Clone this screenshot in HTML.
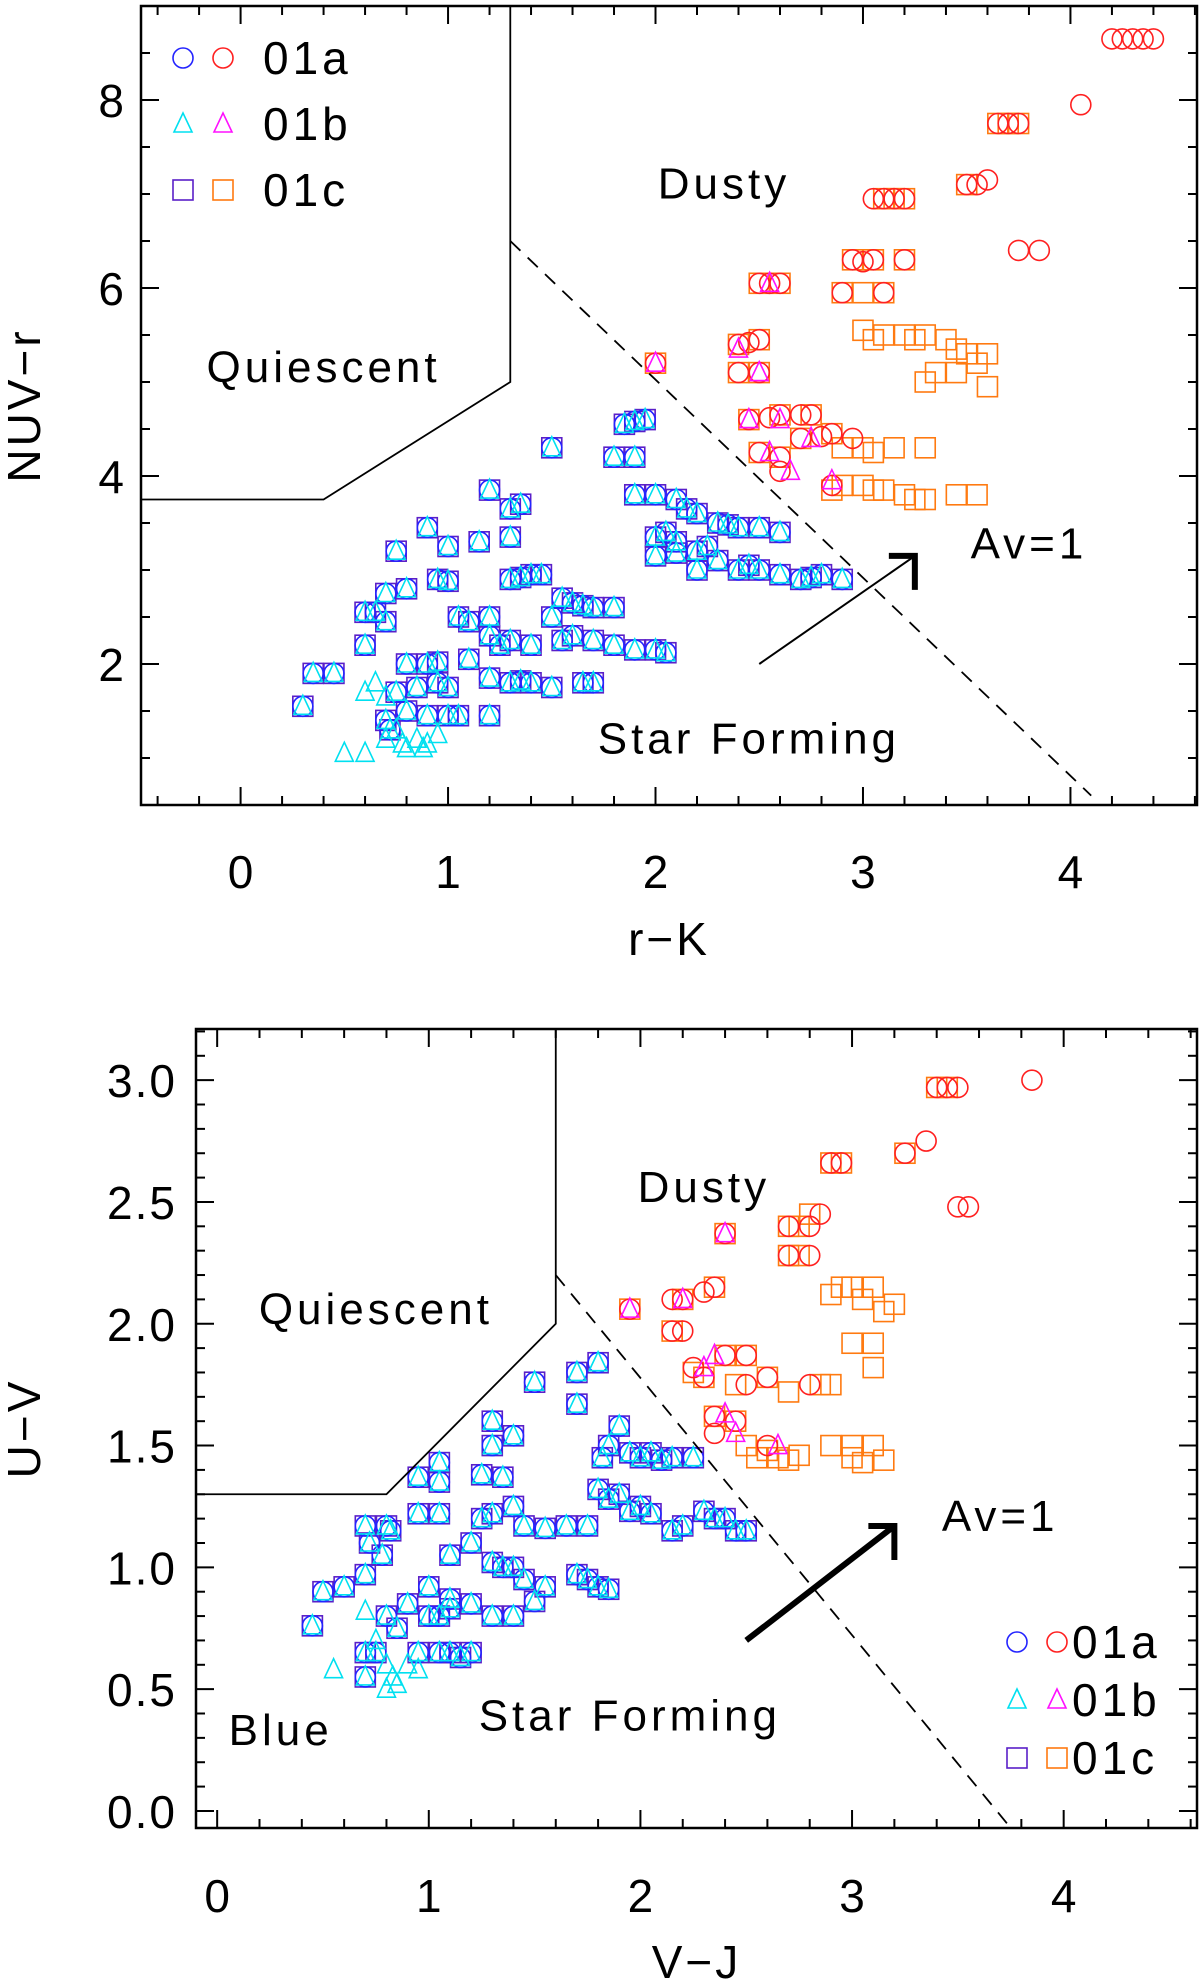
<!DOCTYPE html>
<html><head><meta charset="utf-8"><style>
html,body{margin:0;padding:0;background:#fff;}
svg{display:block;font-family:"Liberation Sans","DejaVu Sans",sans-serif;}
</style></head><body>
<svg id="fig" width="1200" height="1983" viewBox="0 0 1200 1983"></svg>
<script>
// ---------- TOP PANEL DATA (r-K, NUV-r) ----------
const topBlueCombo=[[0.3,1.55],[0.35,1.9],[0.45,1.9],[0.6,2.55],[0.65,2.55],[0.6,2.2],[0.7,2.75],[0.8,2.8],[0.7,2.45],[0.75,3.2],[0.9,3.45],[1.0,3.25],[1.15,3.3],[1.2,3.85],[1.3,3.65],[1.35,3.7],[1.3,3.35],[1.5,4.3],[1.85,4.55],[1.95,4.6],[1.9,4.58],[1.8,4.2],[1.9,4.2],[0.95,2.9],[1.0,2.88],[1.05,2.5],[1.1,2.45],[1.2,2.5],[1.3,2.9],[1.35,2.92],[1.4,2.95],[1.45,2.95],[1.5,2.5],[1.55,2.7],[1.6,2.65],[1.65,2.62],[1.7,2.6],[1.8,2.6],[1.55,2.25],[1.6,2.3],[1.7,2.25],[1.8,2.2],[1.9,2.15],[2.0,2.15],[2.05,2.12],[1.1,2.05],[1.2,2.3],[1.3,2.25],[1.4,2.2],[1.25,2.2],[1.2,1.85],[1.3,1.8],[1.35,1.82],[1.4,1.8],[1.5,1.75],[1.65,1.8],[1.7,1.8],[0.7,1.4],[0.72,1.3],[0.8,1.5],[0.9,1.45],[1.0,1.45],[1.05,1.45],[1.2,1.45],[0.8,2.0],[0.9,2.0],[0.95,2.02],[0.95,1.8],[0.75,1.7],[0.85,1.75],[1.0,1.75],[1.9,3.8],[2.0,3.8],[2.1,3.75],[2.15,3.65],[2.2,3.6],[2.3,3.5],[2.35,3.48],[2.4,3.45],[2.5,3.45],[2.6,3.4],[2.0,3.35],[2.05,3.4],[2.1,3.3],[2.2,3.2],[2.25,3.25],[2.3,3.1],[2.4,3.0],[2.45,3.05],[2.5,3.0],[2.6,2.95],[2.7,2.9],[2.75,2.92],[2.8,2.95],[2.9,2.9],[2.0,3.15],[2.1,3.18],[2.2,3.0]];
const topCyanOnly=[[0.5,1.05],[0.6,1.05],[0.7,1.2],[0.75,1.3],[0.8,1.1],[0.85,1.2],[0.9,1.15],[0.95,1.25],[0.6,1.7],[0.65,1.8],[0.7,1.65],[0.78,1.15],[0.88,1.1]];
const topRedCircles=[[4.2,8.65],[4.25,8.65],[4.3,8.65],[4.35,8.65],[4.4,8.65],[4.05,7.95],[3.65,7.75],[3.7,7.75],[3.75,7.75],[3.5,7.1],[3.55,7.1],[3.6,7.15],[3.75,6.4],[3.85,6.4],[3.05,6.95],[3.1,6.95],[3.15,6.95],[3.2,6.95],[2.95,6.3],[3.0,6.28],[3.05,6.3],[3.2,6.3],[2.9,5.95],[3.1,5.95],[2.5,6.05],[2.55,6.05],[2.6,6.05],[2.0,5.2],[2.4,5.4],[2.45,5.42],[2.5,5.45],[2.4,5.1],[2.5,5.1],[2.45,4.6],[2.55,4.62],[2.6,4.65],[2.7,4.65],[2.75,4.65],[2.7,4.4],[2.8,4.42],[2.85,4.45],[2.95,4.4],[2.5,4.25],[2.6,4.2],[2.6,4.05],[2.85,3.9]];
const topOrangeSquares=[[3.65,7.75],[3.7,7.75],[3.75,7.75],[3.5,7.1],[3.1,6.95],[3.15,6.95],[3.2,6.95],[2.95,6.3],[3.05,6.3],[3.2,6.3],[2.9,5.95],[3.0,5.95],[3.1,5.95],[2.5,6.05],[2.6,6.05],[2.0,5.2],[2.4,5.4],[2.5,5.45],[2.4,5.1],[2.5,5.1],[2.45,4.6],[2.6,4.65],[2.75,4.65],[2.7,4.4],[2.85,4.45],[2.5,4.25],[2.6,4.2],[3.0,5.55],[3.05,5.45],[3.1,5.5],[3.2,5.5],[3.25,5.45],[3.3,5.5],[3.4,5.45],[3.45,5.35],[3.5,5.3],[3.6,5.3],[3.55,5.2],[3.3,5.0],[3.35,5.1],[3.45,5.1],[3.6,4.95],[2.9,4.3],[3.0,4.3],[3.05,4.25],[3.15,4.3],[3.3,4.3],[2.85,3.85],[2.9,3.9],[3.0,3.9],[3.05,3.85],[3.1,3.85],[3.2,3.8],[3.25,3.75],[3.3,3.75],[3.45,3.8],[3.55,3.8]];
const topMagentaTriangles=[[2.0,5.2],[2.4,5.35],[2.5,5.1],[2.45,4.6],[2.6,4.6],[2.55,4.25],[2.65,4.05],[2.75,4.4],[2.85,3.95],[2.55,6.05]];
const topXTicks=[0,1,2,3,4];
const topYTicks=[2,4,6,8];
// ---------- BOTTOM PANEL DATA (V-J, U-V) ----------
const botBlueCombo=[[0.45,0.76],[0.5,0.9],[0.6,0.92],[0.7,0.97],[0.7,1.17],[0.72,1.1],[0.8,1.17],[0.82,1.15],[0.78,1.05],[0.95,1.37],[1.05,1.43],[1.05,1.35],[0.95,1.22],[1.05,1.22],[1.25,1.38],[1.3,1.6],[1.35,1.37],[1.3,1.5],[1.4,1.54],[1.5,1.76],[1.7,1.8],[1.7,1.67],[1.8,1.84],[1.82,1.45],[1.85,1.5],[1.9,1.58],[1.95,1.47],[2.0,1.45],[2.05,1.47],[2.1,1.44],[2.15,1.45],[2.25,1.45],[1.8,1.32],[1.85,1.28],[1.9,1.3],[1.95,1.23],[2.0,1.25],[2.05,1.22],[2.15,1.15],[2.3,1.23],[2.35,1.2],[2.4,1.2],[2.45,1.15],[2.5,1.15],[2.2,1.17],[1.25,1.2],[1.3,1.22],[1.4,1.25],[1.45,1.17],[1.55,1.16],[1.65,1.17],[1.75,1.17],[1.1,1.05],[1.2,1.1],[1.0,0.92],[1.1,0.87],[1.2,0.85],[1.3,0.8],[1.3,1.02],[1.35,1.0],[1.4,1.0],[1.45,0.95],[1.55,0.92],[1.5,0.86],[1.4,0.8],[1.7,0.97],[1.75,0.95],[1.8,0.92],[1.85,0.91],[1.05,0.65],[1.1,0.65],[1.15,0.63],[1.2,0.65],[0.95,0.65],[0.7,0.55],[0.7,0.65],[0.75,0.65],[0.85,0.75],[0.9,0.85],[1.0,0.8],[1.05,0.8],[1.1,0.83],[0.8,0.8]];
const botCyanOnly=[[0.55,0.58],[0.8,0.5],[0.85,0.52],[0.8,0.6],[0.7,0.82],[0.75,0.7],[0.9,0.6],[0.95,0.58],[0.83,0.55]];
const botRedCircles=[[3.85,3.0],[3.35,2.75],[3.25,2.7],[3.4,2.97],[3.45,2.97],[3.5,2.97],[2.95,2.66],[2.9,2.66],[3.5,2.48],[3.55,2.48],[2.85,2.45],[2.8,2.4],[2.7,2.4],[2.7,2.28],[2.8,2.28],[2.4,2.37],[1.95,2.06],[2.35,2.15],[2.3,2.13],[2.15,2.1],[2.2,2.1],[2.15,1.97],[2.2,1.97],[2.4,1.87],[2.5,1.87],[2.25,1.82],[2.3,1.78],[2.5,1.75],[2.6,1.78],[2.8,1.75],[2.35,1.62],[2.45,1.6],[2.35,1.55],[2.6,1.5]];
const botOrangeSquares=[[3.4,2.97],[3.45,2.97],[2.95,2.66],[2.9,2.66],[3.25,2.7],[2.8,2.45],[2.7,2.4],[2.75,2.4],[2.7,2.28],[2.75,2.28],[2.4,2.37],[1.95,2.06],[2.35,2.15],[2.2,2.1],[2.15,1.97],[2.4,1.87],[2.5,1.87],[2.25,1.8],[2.3,1.78],[2.45,1.75],[2.6,1.78],[2.35,1.62],[2.45,1.6],[2.85,1.75],[3.0,2.15],[3.1,2.15],[3.05,2.1],[2.9,2.12],[2.95,2.15],[3.15,2.05],[3.2,2.08],[3.0,1.92],[3.1,1.92],[3.1,1.82],[2.7,1.72],[2.9,1.75],[2.5,1.5],[2.6,1.48],[2.75,1.46],[2.9,1.5],[3.0,1.5],[3.1,1.5],[3.05,1.43],[3.15,1.44],[2.7,1.44],[2.55,1.45],[2.65,1.45],[3.0,1.45]];
const botMagentaTriangles=[[1.95,2.06],[2.4,2.37],[2.35,1.87],[2.4,1.63],[2.45,1.55],[2.65,1.5],[2.2,2.1],[2.3,1.82]];
const botXTicks=[0,1,2,3,4];
const botYTicks=[0.0,0.5,1.0,1.5,2.0,2.5,3.0];

const NS="http://www.w3.org/2000/svg";
const svg=document.getElementById('fig');
function el(tag,attrs,parent){const e=document.createElementNS(NS,tag);for(const k in attrs)e.setAttribute(k,attrs[k]);(parent||svg).appendChild(e);return e;}
const C={blue:'#2424ff',cyan:'#00e0f0',purple:'#5a1fc8',red:'#ff2020',magenta:'#ff10ff',orange:'#ff7a10'};

function makeAxes(p){
  const sx=v=>p.L+(v-p.x0)/(p.x1-p.x0)*(p.R-p.L);
  const sy=v=>p.B-(v-p.y0)/(p.y1-p.y0)*(p.B-p.T);
  return {sx,sy};
}
function circle(g,x,y,col){const e=el('circle',{cx:x,cy:y,r:10,fill:'none',stroke:col,'stroke-width':1.6},g);

}
function square(g,x,y,col){const e=el('rect',{x:x-10,y:y-10,width:20,height:20,fill:'none',stroke:col,'stroke-width':1.6},g);

}
function tri(g,x,y,col){const e=el('polygon',{points:`${x},${y-11} ${x-9},${y+8} ${x+9},${y+8}`,fill:'none',stroke:col,'stroke-width':1.6},g);

}
function text(x,y,s,size,anchor,name,extra){const t=el('text',Object.assign({x:x,y:y,'font-size':size,'text-anchor':anchor||'start',fill:'#000'},extra||{}));t.textContent=s;

return t;}

function panel(p,d){
  const {sx,sy}=makeAxes(p);
  const g=el('g',{});
  
  
  d.blue.forEach(([x,y])=>square(g,sx(x),sy(y),C.purple));
  d.blue.forEach(([x,y])=>circle(g,sx(x),sy(y),C.blue));
  d.blue.forEach(([x,y])=>tri(g,sx(x),sy(y),C.cyan));
  d.cyan.forEach(([x,y])=>tri(g,sx(x),sy(y),C.cyan));
  d.orange.forEach(([x,y])=>square(g,sx(x),sy(y),C.orange));
  d.red.forEach(([x,y])=>circle(g,sx(x),sy(y),C.red));
  d.mag.forEach(([x,y])=>tri(g,sx(x),sy(y),C.magenta));
  const bl=el('polyline',{points:p.bound.map(([x,y])=>sx(x)+','+sy(y)).join(' '),fill:'none',stroke:'#000','stroke-width':1.8});
  
  
  const dl=el('line',{x1:sx(p.dash[0][0]),y1:sy(p.dash[0][1]),x2:sx(p.dash[1][0]),y2:sy(p.dash[1][1]),stroke:'#000','stroke-width':1.8,'stroke-dasharray':'14,10'});
  
  
  const a=p.arrow;
  const al=el('line',{x1:sx(a[0][0]),y1:sy(a[0][1]),x2:sx(a[1][0]),y2:sy(a[1][1]),stroke:'#000','stroke-width':p.arrowW});
  
  
  const hx=sx(a[1][0]),hy=sy(a[1][1]);
  const ah=el('polyline',{points:`${hx-26},${hy} ${hx},${hy} ${hx},${hy+34}`,fill:'none',stroke:'#000','stroke-width':6});
  
  
  const fr=el('rect',{x:p.L,y:p.T,width:p.R-p.L,height:p.B-p.T,fill:'none',stroke:'#000','stroke-width':2.5});
  
  
  const eps=1e-6;
  for(let v=Math.ceil(p.x0/p.xm-eps)*p.xm; v<=p.x1+eps; v+=p.xm){
    const major=Math.abs(v/p.xM-Math.round(v/p.xM))<1e-4; const len=major?18:9; const X=sx(v);
    el('line',{x1:X,y1:p.B,x2:X,y2:p.B-len,stroke:'#000','stroke-width':2});
    el('line',{x1:X,y1:p.T,x2:X,y2:p.T+len,stroke:'#000','stroke-width':2});
  }
  for(let v=Math.ceil(p.y0/p.ym-eps)*p.ym; v<=p.y1+eps; v+=p.ym){
    const major=Math.abs(v/p.yM-Math.round(v/p.yM))<1e-4; const len=major?18:9; const Y=sy(v);
    el('line',{x1:p.L,y1:Y,x2:p.L+len,y2:Y,stroke:'#000','stroke-width':2});
    el('line',{x1:p.R,y1:Y,x2:p.R-len,y2:Y,stroke:'#000','stroke-width':2});
  }
  d.xt.forEach(v=>text(sx(v),p.xtY,String(v),46,'middle','x-tick-label'));
  d.yt.forEach(v=>text(p.ytX,sy(v)+17,p.yfmt(v),46,'end','y-tick-label',{'letter-spacing':2}));
  text((p.L+p.R)/2,p.xtitleY,p.xtitle,46,'middle','x-axis-title',{'letter-spacing':3});
  text(p.ytitleX,(p.T+p.B)/2,p.ytitle,46,'middle','y-axis-title',{transform:`rotate(-90 ${p.ytitleX} ${(p.T+p.B)/2})`,'letter-spacing':3});
  p.labels.forEach(([s,x,y,nm])=>text(sx(x),sy(y),s,44,'middle',nm,{'letter-spacing':4}));
  const lg=p.legend; const rows=[['01a','c'],['01b','t'],['01c','s']];
  rows.forEach(([lab,k],i)=>{const y=lg.y+i*lg.dy;
    if(k==='c'){circle(g,lg.x,y,C.blue);circle(g,lg.x+40,y,C.red);}
    if(k==='t'){tri(g,lg.x,y,C.cyan);tri(g,lg.x+40,y,C.magenta);}
    if(k==='s'){square(g,lg.x,y,C.purple);square(g,lg.x+40,y,C.orange);}
    text(lg.x+lg.tx,y+16,lab,46,'start','legend-entry-'+lab,{'letter-spacing':4});
  });
}

panel({name:'top-panel',L:141,R:1197,T:6,B:805,x0:-0.48,x1:4.61,y0:0.5,y1:9.0,xm:0.2,xM:1,ym:0.5,yM:2,
  xtY:888,ytX:126,xtitleY:955,ytitleX:40,xtitle:'r\u2212K',ytitle:'NUV\u2212r',yfmt:v=>String(v),
  bound:[[-0.48,3.75],[0.4,3.75],[1.3,5.0],[1.3,9.0]],dash:[[1.3,6.5],[4.1,0.6]],
  arrow:[[2.5,2.0],[3.25,3.15]],arrowW:2,
  labels:[['Dusty',2.33,6.95,'dusty-label'],['Quiescent',0.4,5.0,'quiescent-label'],['Star Forming',2.45,1.05,'star-forming-label'],['Av=1',3.8,3.12,'av-label']],
  legend:{x:183,y:58,dy:66,tx:80}},
 {blue:topBlueCombo,cyan:topCyanOnly,red:topRedCircles,orange:topOrangeSquares,mag:topMagentaTriangles,xt:topXTicks,yt:topYTicks});

panel({name:'bottom-panel',L:196,R:1197,T:1029,B:1828,x0:-0.1,x1:4.63,y0:-0.07,y1:3.21,xm:0.2,xM:1,ym:0.1,yM:0.5,
  xtY:1912,ytX:177,xtitleY:1978,ytitleX:40,xtitle:'V\u2212J',ytitle:'U\u2212V',yfmt:v=>v.toFixed(1),
  bound:[[-0.1,1.3],[0.8,1.3],[1.6,2.0],[1.6,3.21]],dash:[[1.6,2.2],[3.75,-0.07]],
  arrow:[[2.5,0.7],[3.2,1.17]],arrowW:6,
  labels:[['Dusty',2.3,2.5,'dusty-label'],['Quiescent',0.75,2.0,'quiescent-label'],['Star Forming',1.95,0.33,'star-forming-label'],['Blue',0.3,0.27,'blue-label'],['Av=1',3.7,1.15,'av-label']],
  legend:{x:1017,y:1642,dy:58,tx:55}},
 {blue:botBlueCombo,cyan:botCyanOnly,red:botRedCircles,orange:botOrangeSquares,mag:botMagentaTriangles,xt:botXTicks,yt:botYTicks});
</script>
</body></html>
